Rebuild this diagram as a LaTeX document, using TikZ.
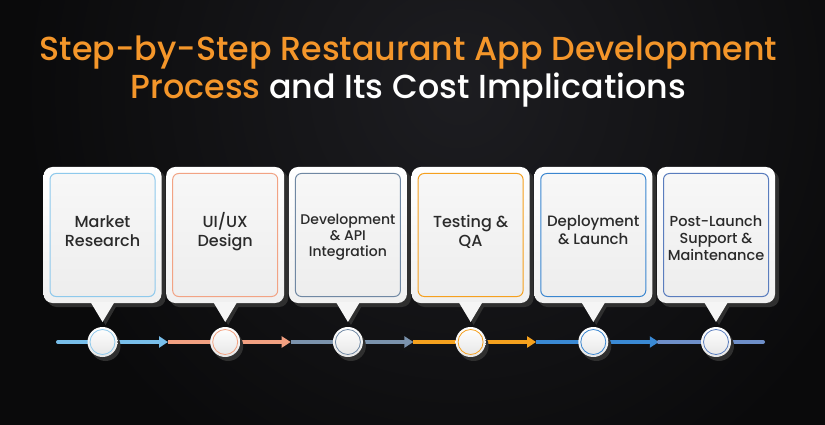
\documentclass[tikz,border=0pt]{standalone}
\usepackage{fontspec}
\setmainfont{Poppins Medium}
\usetikzlibrary{arrows.meta,shadows}
\definecolor{bg}{HTML}{0A0A0B}
\definecolor{glow}{HTML}{1D1D21}
\definecolor{ttl}{HTML}{F4962A}
\definecolor{txt}{HTML}{2A2A2A}
\definecolor{shd}{HTML}{2F2F2F}
\definecolor{cA}{HTML}{8EC9EC}
\definecolor{cB}{HTML}{F2A384}
\definecolor{cC}{HTML}{7088A3}
\definecolor{cD}{HTML}{F5A01F}
\definecolor{cE}{HTML}{3A86D0}
\definecolor{cF}{HTML}{5A7DBE}
\definecolor{lA}{HTML}{78BEEA}
\definecolor{lB}{HTML}{F2A081}
\definecolor{lC}{HTML}{7B93AD}
\definecolor{lD}{HTML}{F5A11E}
\definecolor{lE}{HTML}{3A89D4}
\definecolor{lF}{HTML}{6E8FC9}
\tikzset{
  outerbox/.style={rectangle, rounded corners=9pt, minimum width=118pt, minimum height=136pt,
    top color=white, bottom color=white!94!black, draw=none,
    drop shadow={shadow xshift=4pt, shadow yshift=-4pt, fill=shd, opacity=1}},
  innerbox/.style={rectangle, rounded corners=6pt, minimum width=105pt, minimum height=123pt,
    top color=white!97!black, bottom color=white!93!black, line width=1pt},
  label/.style={align=center, text=txt, inner sep=0pt},
  dot/.style={circle, minimum size=30pt, inner sep=0pt, top color=white, bottom color=white!90!black,
    drop shadow={shadow xshift=3pt, shadow yshift=-4pt, fill=shd, opacity=1}},
  seg/.style={line width=4pt},
  tip/.style={-{Triangle[length=9pt,width=11pt]}},
}
\begin{document}
\begin{tikzpicture}[x=1pt,y=-1pt]
\useasboundingbox (0,0) rectangle (825,425);
\fill[bg] (0,0) rectangle (825,425);
\shade[inner color=glow, outer color=bg] (460,90) circle (440pt);

% title
\node[anchor=base, text=ttl, font=\fontsize{33.3}{38}\selectfont, inner sep=0pt] (title1) at (408.5,61) {Step-by-Step Restaurant App Development};
\node[anchor=base, font=\fontsize{33.3}{38}\selectfont, inner sep=0pt] (title2) at (408.5,99) {\textcolor{ttl}{Process} \textcolor{white}{and Its Cost Implications}};

% boxes
\foreach \i/\col/\fs/\ls/\ty/\txt in {
  1/cA/16/19/231.5/{Market\\Research},
  2/cB/16/19/231.5/{UI/UX\\Design},
  3/cC/14/16/237/{Development\\\& API\\Integration},
  4/cD/16/19/231.5/{Testing \&\\QA},
  5/cE/15/18/230/{Deployment\\\& Launch},
  6/cF/14.5/17/238/{Post-Launch\\Support \&\\Maintenance}}{
  \pgfmathsetmacro{\cx}{102.5+122.7*(\i-1)}
  \fill[shd] (\cx-9,304) -- (\cx+15,304) -- (\cx+3,325) -- cycle;
  \node[outerbox] (box\i) at (\cx,235) {};
  \fill[white!96!black] (\cx-12,302) -- (\cx+12,302) -- (\cx,322) -- cycle;
  \node[innerbox, draw=\col] (in\i) at (\cx,235) {};
  \node[label, font=\fontsize{\fs}{\ls}\selectfont] (txt\i) at (\cx,\ty) {\txt};
}

% timeline coordinates
\coordinate (s0) at (58,342);
\foreach \i in {1,...,5}{
  \pgfmathsetmacro{\sx}{102.5+122.7*(\i-1)+65.5}
  \coordinate (s\i) at (\sx,342);
}
\coordinate (s6) at (763,342);

\draw[seg, lA, tip, line cap=round] (s0) -- (s1);
\draw[seg, lB, tip] (s1) -- (s2);
\draw[seg, lC, tip] (s2) -- (s3);
\draw[seg, lD, tip] (s3) -- (s4);
\draw[seg, lE, tip] (s4) -- (s5);
\draw[seg, lF, line cap=round] (s5) -- (s6);

% dots
\foreach \i/\col in {1/cA,2/cB,3/cC,4/cD,5/cE,6/cF}{
  \pgfmathsetmacro{\cx}{102.5+122.7*(\i-1)}
  \node[dot] (dot\i) at (\cx,342) {};
  \draw[\col, line width=0.8pt] (dot\i.center) circle (12.5pt);
}
\end{tikzpicture}
\end{document}
